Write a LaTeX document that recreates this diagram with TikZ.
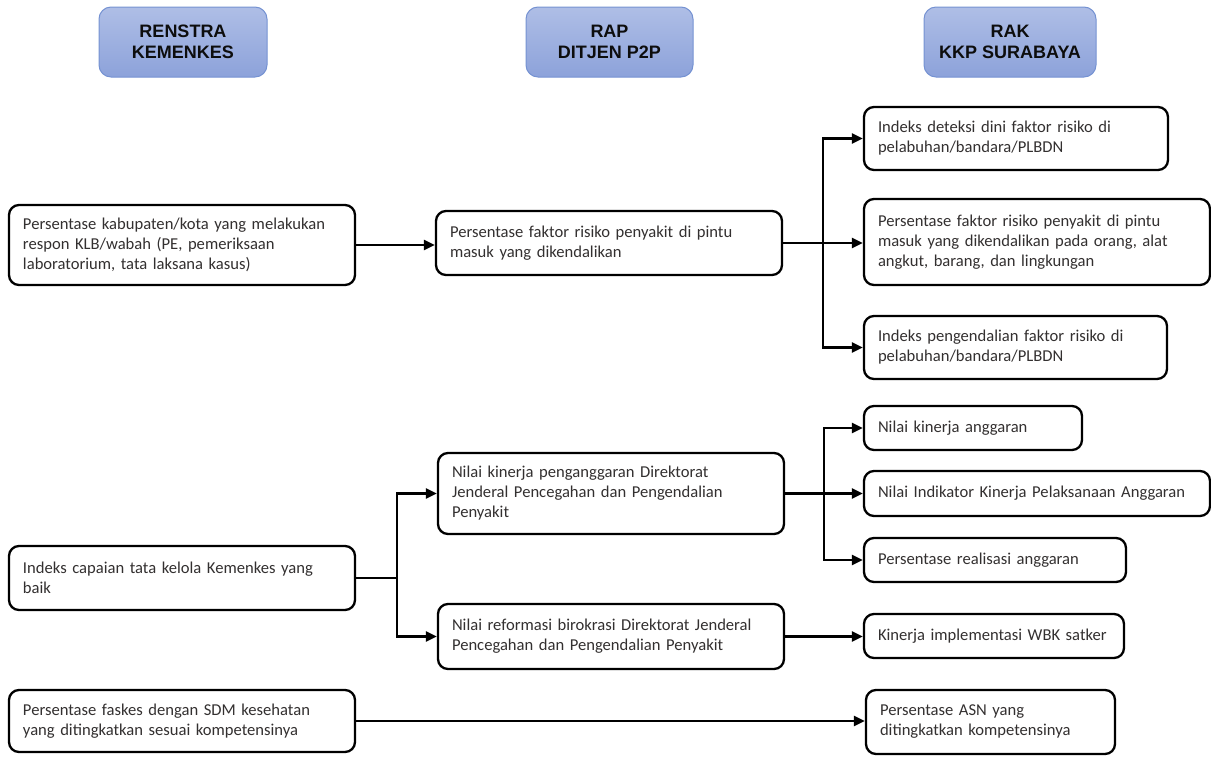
\documentclass[tikz,border=0pt]{standalone}
\usepackage{fontspec}
\setmainfont{Carlito}
\newfontfamily\hfont{Liberation Sans}
\usetikzlibrary{arrows.meta}
\definecolor{txt}{HTML}{333030}
\definecolor{hdrtop}{HTML}{AFBEE6}
\definecolor{hdrbot}{HTML}{8CA2DA}
\definecolor{hdrline}{HTML}{7592D2}
\tikzset{
  box/.style={draw=black, line width=2.3pt, rounded corners=10pt, inner xsep=14pt, inner ysep=0pt,
    align=left, text=txt, font=\fontsize{16.6}{20}\selectfont, fill=white},
  hdr/.style={draw=hdrline, line width=1pt, rounded corners=12pt, top color=hdrtop, bottom color=hdrbot,
    inner sep=0pt, align=center, font=\hfont\bfseries\fontsize{18}{21}\selectfont, text=black!95},
  arr/.style={line width=2.3pt, -{Triangle[length=11pt,width=10pt]}},
  ln/.style={line width=2.3pt},
}
\begin{document}
\begin{tikzpicture}[x=1pt,y=-1pt]
\useasboundingbox (0,0) rectangle (1211,756);
% headers
\node[hdr, minimum width=168, minimum height=70] (H1) at (183,42) {RENSTRA\\KEMENKES};
\node[hdr, minimum width=167, minimum height=70] (H2) at (609.5,42) {RAP\\DITJEN P2P};
\node[hdr, minimum width=172, minimum height=70] (H3) at (1010,42) {RAK\\KKP SURABAYA};
% left column
\node[box, minimum width=346, minimum height=80, text width=318] (L1) at (182,245)
  {Persentase kabupaten/kota yang melakukan\\respon KLB/wabah (PE, pemeriksaan\\laboratorium, tata laksana kasus)};
\node[box, minimum width=346, minimum height=64, text width=318] (L2) at (182,578)
  {Indeks capaian tata kelola Kemenkes yang\\baik};
\node[box, minimum width=346, minimum height=62, text width=318] (L3) at (182,721)
  {Persentase faskes dengan SDM kesehatan\\yang ditingkatkan sesuai kompetensinya};
% middle column
\node[box, minimum width=346, minimum height=64, text width=318] (M1) at (609,243)
  {Persentase faktor risiko penyakit di pintu\\masuk yang dikendalikan};
\node[box, minimum width=346, minimum height=81, text width=318] (M2) at (611,493.5)
  {Nilai kinerja penganggaran Direktorat\\Jenderal Pencegahan dan Pengendalian\\Penyakit};
\node[box, minimum width=346, minimum height=65, text width=318] (M3) at (611,636.5)
  {Nilai reformasi birokrasi Direktorat Jenderal\\Pencegahan dan Pengendalian Penyakit};
% right column
\node[box, minimum width=304, minimum height=63, text width=276] (R1) at (1016,138.5)
  {Indeks deteksi dini faktor risiko di\\pelabuhan/bandara/PLBDN};
\node[box, minimum width=346, minimum height=86, text width=318] (R2) at (1037,242)
  {Persentase faktor risiko penyakit di pintu\\masuk yang dikendalikan pada orang, alat\\angkut, barang, dan lingkungan};
\node[box, minimum width=303, minimum height=63, text width=275] (R3) at (1015.5,347.5)
  {Indeks pengendalian faktor risiko di\\pelabuhan/bandara/PLBDN};
\node[box, minimum width=218, minimum height=44, text width=190] (R4) at (973,428)
  {Nilai kinerja anggaran};
\node[box, minimum width=346, minimum height=45, text width=318] (R5) at (1037,493.5)
  {Nilai Indikator Kinerja Pelaksanaan Anggaran};
\node[box, minimum width=262, minimum height=44, text width=234] (R6) at (995,560)
  {Persentase realisasi anggaran};
\node[box, minimum width=260, minimum height=44, text width=232] (R7) at (994,636)
  {Kinerja implementasi WBK satker};
\node[box, minimum width=249, minimum height=64, text width=221] (R8) at (990.5,722)
  {Persentase ASN yang\\ditingkatkan kompetensinya};
% connectors
\coordinate (b1) at (823,243);
\coordinate (b2) at (397,578);
\coordinate (b3) at (824,493.5);
\draw[arr] (L1.east) -- (M1.west |- L1.east);
\draw[arr] (M1.east) -- (R2.west |- M1.east);
\draw[arr] (b1) |- (R1.west);
\draw[arr] (b1) |- (R3.west);
\draw[ln] (L2.east) -- (b2);
\draw[arr] (b2) |- (M2.west);
\draw[arr] (b2) |- (M3.west);
\draw[arr] (M2.east) -- (R5.west);
\draw[arr] (b3) |- (R4.west);
\draw[arr] (b3) |- (R6.west);
\draw[arr] (M3.east) -- (R7.west |- M3.east);
\draw[arr] (L3.east) -- (R8.west |- L3.east);
\end{tikzpicture}
\end{document}
